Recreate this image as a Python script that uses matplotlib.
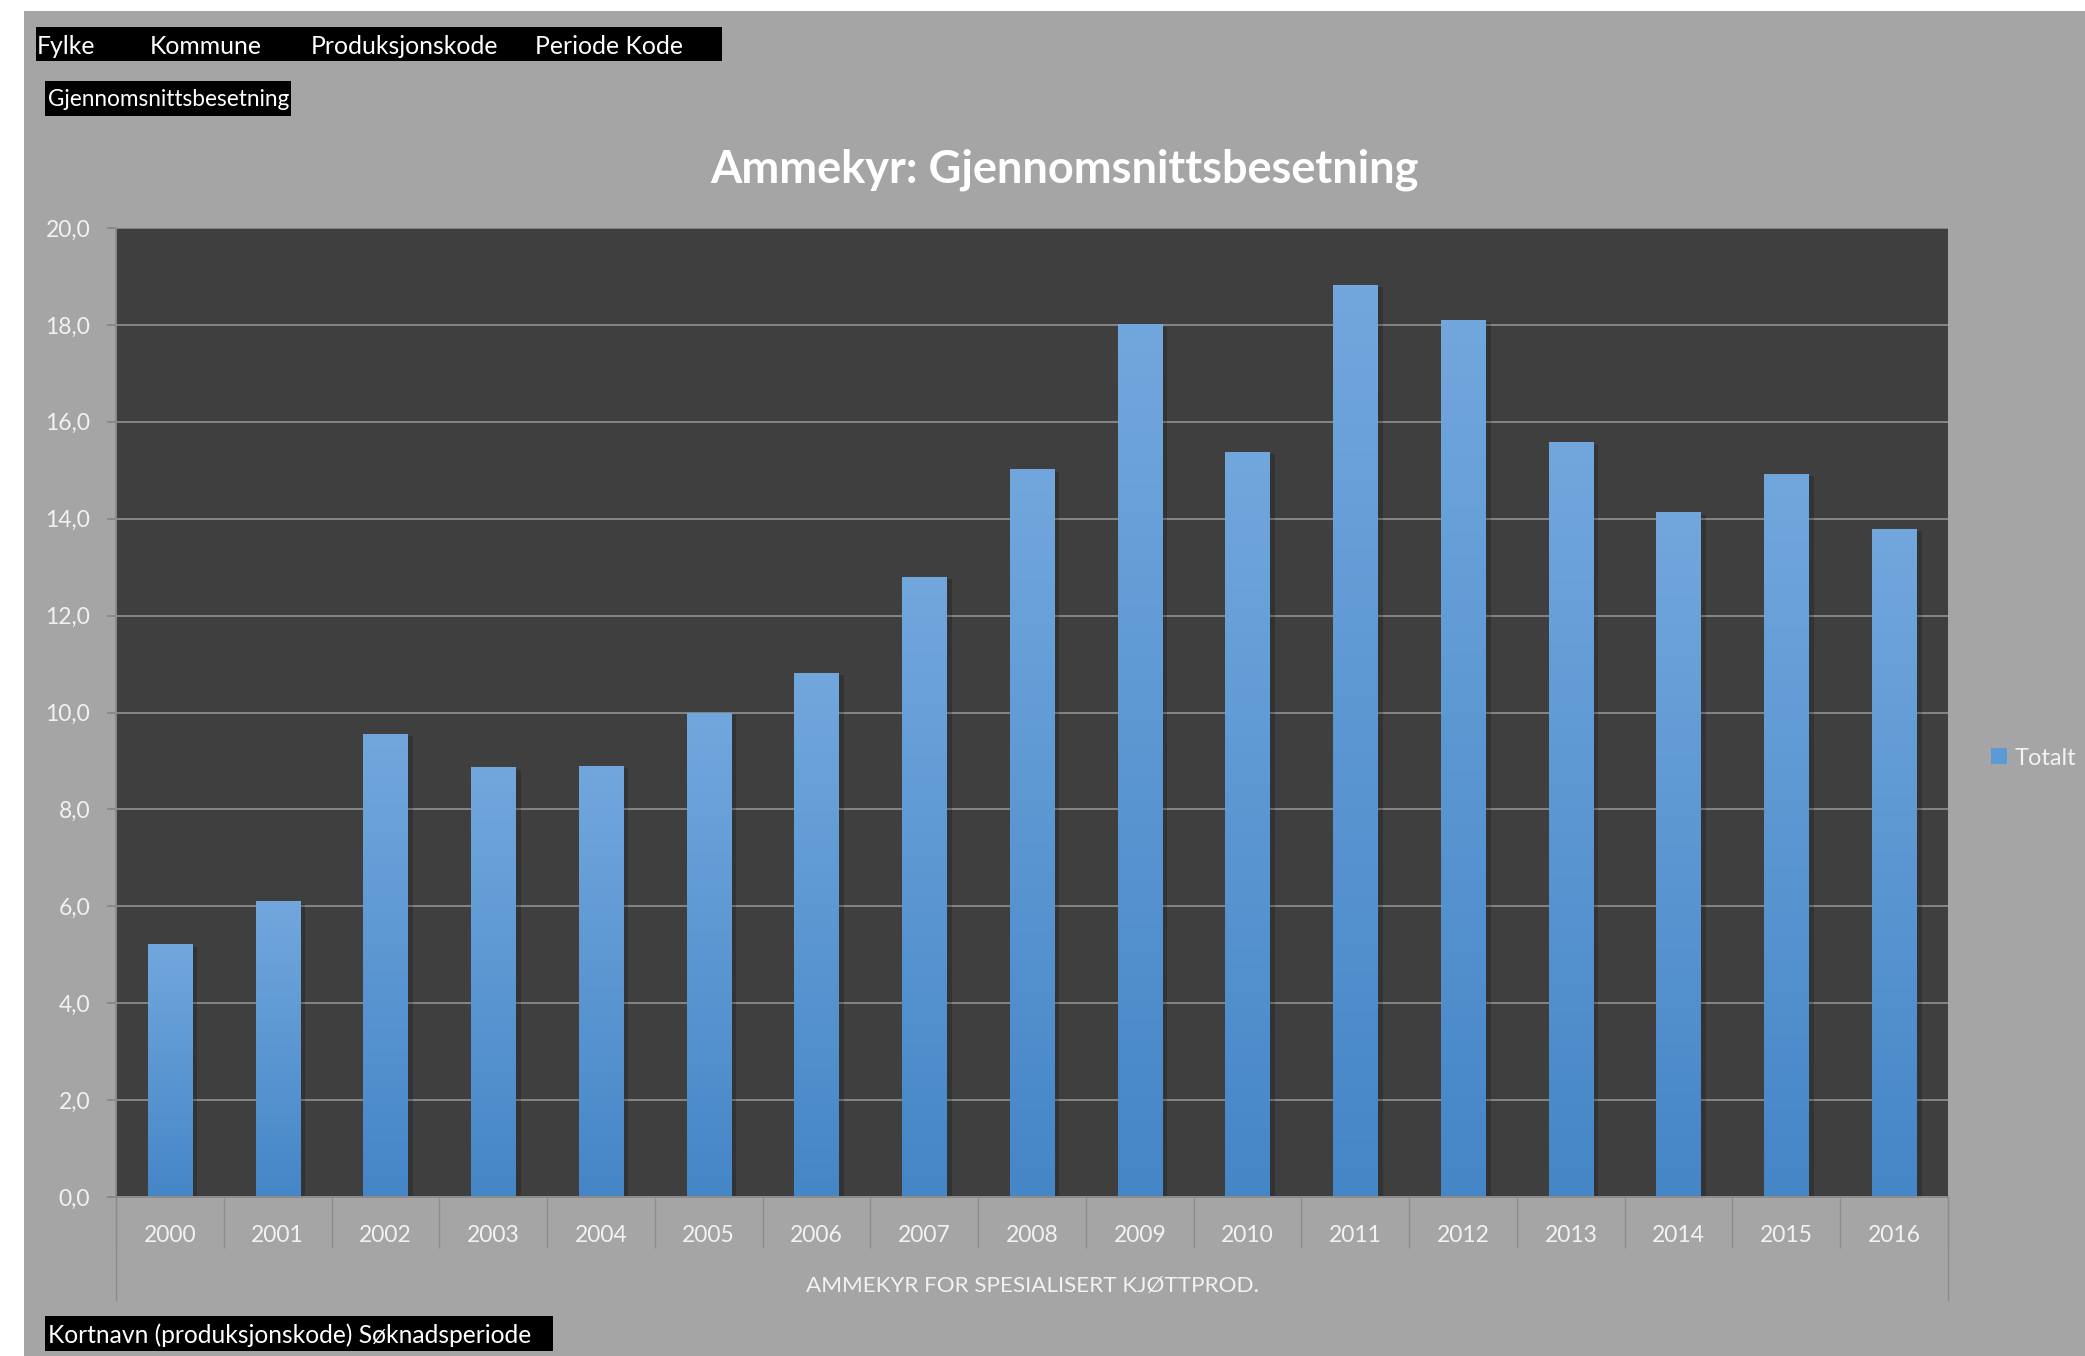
import numpy as np
import matplotlib
matplotlib.use("Agg")
import matplotlib.pyplot as plt
from matplotlib.colors import LinearSegmentedColormap
from matplotlib.patches import Rectangle
from matplotlib.ticker import FuncFormatter, FixedLocator
import matplotlib.transforms as mtransforms

plt.rcParams['font.family'] = ['Lato', 'DejaVu Sans']

# data
years = ['2000', '2001', '2002', '2003', '2004', '2005', '2006', '2007', '2008',
         '2009', '2010', '2011', '2012', '2013', '2014', '2015', '2016']
totalt = [5.22, 6.10, 9.56, 8.87, 8.90, 10.0, 10.82, 12.80, 15.02,
          18.01, 15.38, 18.83, 18.11, 15.58, 14.13, 14.93, 13.79]

title = 'Ammekyr: Gjennomsnittsbesetning'
x_label = 'AMMEKYR FOR SPESIALISERT KJØTTPROD.'
filter_fields = ['Fylke', 'Kommune', 'Produksjonskode', 'Periode Kode']
value_field = 'Gjennomsnittsbesetning'
row_field = 'Kortnavn (produksjonskode) Søknadsperiode'
series_name = 'Totalt'

W, H = 2085, 1356
fig = plt.figure(figsize=(W / 100, H / 100), dpi=100)
fig.patch.set_facecolor('white')

def fx(px):
    return px / W

def fy(py):
    return 1 - py / H

# grey sheet background
fig.patches.append(Rectangle((fx(24), 0), 1 - fx(24), fy(11), transform=fig.transFigure,
                             facecolor='#a5a5a5', edgecolor='none', zorder=-10))

ax = fig.add_axes([fx(116), fy(1197), fx(1948 - 116), (1197 - 228) / H])
ax.set_facecolor('#3f3f3f')

x = np.arange(len(years))
bars = ax.bar(x, totalt, width=0.41, color='#5b9bd5', label=series_name, zorder=2)

# gradient fill for each bar
cmap = LinearSegmentedColormap.from_list('bar', ['#4586c7', '#72a7dd'])
grad = np.linspace(0, 1, 256).reshape(-1, 1)
for b in bars:
    bx, by = b.get_x(), b.get_y()
    bw, bh = b.get_width(), b.get_height()
    # soft shadow
    sh = Rectangle((bx + 0.02, by), bw + 0.03, bh - 0.05, facecolor='black',
                   alpha=0.18, edgecolor='none', zorder=1.5)
    ax.add_patch(sh)
    im = ax.imshow(grad, extent=[bx, bx + bw, by, by + bh], origin='lower',
                   aspect='auto', cmap=cmap, zorder=2.1)
    im.set_clip_path(b)

ax.set_xlim(-0.5, len(years) - 0.5)
ax.set_ylim(0, 20)

# y axis
ax.set_yticks(np.arange(0, 21, 2))
ax.yaxis.set_major_formatter(FuncFormatter(lambda v, p: f'{v:.1f}'.replace('.', ',')))
ax.yaxis.grid(True, color='#858585', linewidth=1.4, zorder=0)
ax.set_axisbelow(True)
ax.tick_params(axis='y', direction='out', length=6.5, width=1.2, color='#858585',
               labelcolor='#f2f2f2', labelsize=16.5, pad=12)

# x axis: separators at category edges, labels at centres
ax.xaxis.set_major_locator(FixedLocator(np.arange(len(years) + 1) - 0.5))
ax.xaxis.set_minor_locator(FixedLocator(x))
ax.set_xticklabels([], minor=False)
ax.set_xticklabels(years, minor=True)
ax.tick_params(axis='x', which='major', direction='out', length=37, width=1.0, color='#8c8c8c')
ax.tick_params(axis='x', which='minor', length=0, labelcolor='#f2f2f2', labelsize=16.5, pad=20)

for side in ['top', 'right']:
    ax.spines[side].set_visible(False)
for side in ['left', 'bottom']:
    ax.spines[side].set_color('#8c8c8c')
    ax.spines[side].set_linewidth(1.4)

# long lines at the outer category edges
trans = mtransforms.blended_transform_factory(ax.transData, ax.transAxes)
for edge in [-0.5, len(years) - 0.5]:
    ax.plot([edge, edge], [0, -103 / 969], transform=trans, color='#8c8c8c',
            linewidth=1.0, clip_on=False)

ax.text(0.5, -89 / 969, x_label, transform=ax.transAxes, ha='center', va='center',
        color='#f2f2f2', fontsize=16.2)

fig.text(fx(1065), fy(170), title, ha='center', va='center', color='white',
         fontsize=32.5, fontweight='bold')

# pivot field buttons
fig.patches.append(Rectangle((fx(36), fy(61)), fx(722 - 36), (61 - 27) / H,
                             transform=fig.transFigure, facecolor='black', zorder=5))
for label, px in zip(filter_fields, [37, 150, 311, 535]):
    fig.text(fx(px), fy(47), label, ha='left', va='center', color='white', fontsize=17.8, zorder=6)

fig.patches.append(Rectangle((fx(45), fy(116)), fx(291 - 45), (116 - 81) / H,
                             transform=fig.transFigure, facecolor='black', zorder=5))
fig.text(fx(48), fy(99), value_field, ha='left', va='center', color='white', fontsize=16.3, zorder=6)

fig.patches.append(Rectangle((fx(45), fy(1351)), fx(553 - 45), (1351 - 1316) / H,
                             transform=fig.transFigure, facecolor='black', zorder=5))
fig.text(fx(48), fy(1335), row_field, ha='left', va='center', color='white', fontsize=17.7, zorder=6)

leg = fig.legend(handles=[bars], labels=[series_name], loc='center left',
                 bbox_to_anchor=(fx(1982), fy(758)), frameon=False, fontsize=17,
                 handlelength=0.65, handleheight=0.65, handletextpad=0.35, borderaxespad=0)
for t in leg.get_texts():
    t.set_color('#f2f2f2')

fig.savefig('out.png', dpi=100, facecolor=fig.get_facecolor())
